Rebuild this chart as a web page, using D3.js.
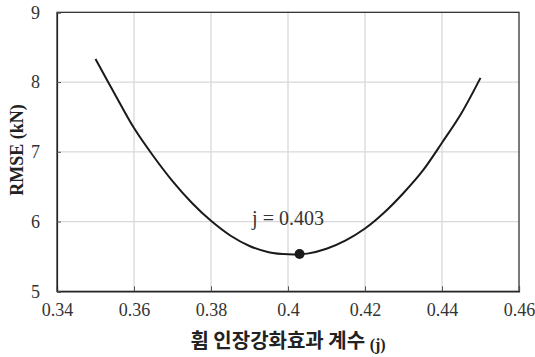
<!DOCTYPE html>
<html>
<head>
<meta charset="utf-8">
<script src="https://cdn.jsdelivr.net/npm/d3@7"></script>
<style>
  html, body { margin: 0; padding: 0; background: #fff; }
  svg { display: block; }
</style>
</head>
<body>
<svg id="chart" width="535" height="357"></svg>
<script>
// RMSE of predicted load versus the flexural tension-stiffening coefficient j
const jValues = [0.350, 0.355, 0.360, 0.365, 0.370, 0.375, 0.380, 0.385, 0.390, 0.395, 0.400,
                 0.405, 0.410, 0.415, 0.420, 0.425, 0.430, 0.435, 0.440, 0.445, 0.450];
const rmseValues = [8.33, 7.83, 7.34, 6.94, 6.58, 6.27, 6.01, 5.80, 5.65, 5.56, 5.53,
                    5.54, 5.61, 5.73, 5.90, 6.13, 6.41, 6.73, 7.13, 7.55, 8.06];
const xTicks = [0.34, 0.36, 0.38, 0.40, 0.42, 0.44, 0.46];
const yTicks = [5, 6, 7, 8, 9];
const optimumJ = 0.403;
const optimumRmse = 5.535;

const svg = d3.select("#chart");
const margin = { left: 57, right: 16, top: 12.3, bottom: 65.7 };
const W = 535, H = 357;
const x = d3.scaleLinear().domain([0.34, 0.46]).range([margin.left, W - margin.right]);
const y = d3.scaleLinear().domain([5, 9]).range([H - margin.bottom, margin.top]);

const serif = "'Liberation Serif', 'Times New Roman', serif";

// grid
svg.append("g").selectAll("line").data(xTicks.slice(1, -1)).join("line")
  .attr("x1", d => x(d)).attr("x2", d => x(d))
  .attr("y1", y(5)).attr("y2", y(9))
  .attr("stroke", "#d9d9d9").attr("stroke-width", 1.3);
svg.append("g").selectAll("line").data(yTicks.slice(1, -1)).join("line")
  .attr("x1", x(0.34)).attr("x2", x(0.46))
  .attr("y1", d => y(d)).attr("y2", d => y(d))
  .attr("stroke", "#d9d9d9").attr("stroke-width", 1.3);

// frame
svg.append("rect")
  .attr("x", x(0.34)).attr("y", y(9))
  .attr("width", x(0.46) - x(0.34)).attr("height", y(5) - y(9))
  .attr("fill", "none").attr("stroke", "#222").attr("stroke-width", 1.2);

// axes with inward ticks
const xAxis = d3.axisBottom(x).tickValues(xTicks).tickSize(-5).tickPadding(12)
  .tickFormat(d => String(+d.toFixed(2)));
const gx = svg.append("g").attr("transform", `translate(0,${y(5)})`).call(xAxis);
gx.attr("font-family", null).attr("font-size", null);
gx.select(".domain").attr("stroke", "#222").attr("stroke-width", 1.2);
gx.selectAll(".tick line").attr("stroke", "#555");
gx.selectAll("text").style("font-family", serif).style("font-size", "18px").attr("fill", "#333");

const yAxis = d3.axisLeft(y).tickValues(yTicks).tickSize(-4).tickPadding(17).tickFormat(d3.format("d"));
const gy = svg.append("g").attr("transform", `translate(${x(0.34)},0)`).call(yAxis);
gy.attr("font-family", null).attr("font-size", null);
gy.select(".domain").attr("stroke", "#222").attr("stroke-width", 1.2);
gy.selectAll(".tick line").attr("stroke", "#555");
gy.selectAll("text").style("font-family", serif).style("font-size", "18px").attr("fill", "#333");

// curve
const pts = jValues.map((j, i) => [j, rmseValues[i]]);
svg.append("path")
  .datum(pts)
  .attr("fill", "none")
  .attr("stroke", "#1a1a1a")
  .attr("stroke-width", 2)
  .attr("d", d3.line().x(d => x(d[0])).y(d => y(d[1])).curve(d3.curveCatmullRom.alpha(0.5)));

// optimum marker and label
svg.append("circle")
  .attr("cx", x(optimumJ)).attr("cy", y(optimumRmse)).attr("r", 5)
  .attr("fill", "#1a1a1a");
svg.append("text")
  .attr("x", x(0.40)).attr("y", y(5.95))
  .attr("text-anchor", "middle")
  .style("font-family", serif).style("font-size", "20px").attr("fill", "#333")
  .text(`j = ${optimumJ}`);

// axis titles
const xt = svg.append("text")
  .attr("x", (x(0.34) + x(0.46)) / 2).attr("y", 348)
  .attr("text-anchor", "middle")
  .attr("fill", "#222");
xt.append("tspan")
  .style("font-family", "'Noto Sans CJK KR', sans-serif").style("font-weight", "bold").style("font-size", "20px")
  .text("휨 인장강화효과 계수 ");
xt.append("tspan")
  .style("font-family", serif).style("font-weight", "bold").style("font-size", "16px").attr("dy", 2)
  .text("(j)");

svg.append("text")
  .attr("transform", `translate(23,150) rotate(-90)`)
  .attr("text-anchor", "middle")
  .style("font-family", serif).style("font-weight", "bold").style("font-size", "18px").attr("fill", "#222")
  .text("RMSE (kN)");
</script>
</body>
</html>
